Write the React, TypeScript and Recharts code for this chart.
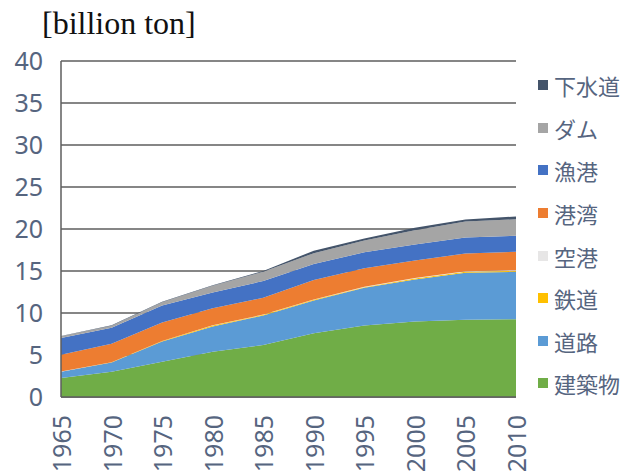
import React from 'react';
import { AreaChart, Area, XAxis, YAxis, CartesianGrid, Legend } from 'recharts';

const years = [1965, 1970, 1975, 1980, 1985, 1990, 1995, 2000, 2005, 2010];
const buildings = [2.25, 3.0, 4.2, 5.4, 6.2, 7.6, 8.5, 9.0, 9.2, 9.25];
const roads = [0.75, 1.1, 2.4, 3.0, 3.5, 3.9, 4.5, 5.0, 5.6, 5.65];
const railways = [0.02, 0.03, 0.06, 0.1, 0.08, 0.08, 0.08, 0.1, 0.1, 0.1];
const airports = [0.01, 0.01, 0.02, 0.03, 0.03, 0.04, 0.05, 0.06, 0.08, 0.1];
const ports = [2.0, 2.2, 2.2, 2.05, 2.0, 2.3, 2.2, 2.1, 2.1, 2.2];
const fishingPorts = [2.0, 1.9, 2.0, 1.85, 2.0, 1.9, 1.9, 1.9, 1.9, 1.9];
const dams = [0.2, 0.25, 0.4, 0.8, 1.1, 1.3, 1.4, 1.7, 1.9, 1.95];
const sewers = [0.03, 0.05, 0.05, 0.06, 0.1, 0.3, 0.25, 0.3, 0.25, 0.35];
const yTicks = [0, 5, 10, 15, 20, 25, 30, 35, 40];

const seriesNames = ['建築物', '道路', '鉄道', '空港', '港湾', '漁港', 'ダム', '下水道'];
const seriesValues = [buildings, roads, railways, airports, ports, fishingPorts, dams, sewers];
const seriesColors = ['#70AD47', '#5B9BD5', '#FFC000', '#E7E6E6', '#ED7D31', '#4472C4', '#A5A5A5', '#44546A'];

const data = years.map((year, i) => {
  const row: Record<string, number> = { year };
  seriesNames.forEach((n, k) => {
    row[n] = seriesValues[k][i];
  });
  return row;
});

const TEXT = '#56657F';
const LINE = '#5E5E5E';
const FONT = '"Noto Sans", "Noto Sans CJK JP", sans-serif';

const XTick = (props: any) => {
  const { x, y, payload } = props;
  const ty = y + 10;
  return (
    <text
      x={x}
      y={ty}
      transform={`rotate(-90, ${x}, ${ty})`}
      textAnchor="end"
      dominantBaseline="central"
      fill={TEXT}
      fontSize={25}
      fontFamily={FONT}
    >
      {payload.value}
    </text>
  );
};

const LegendContent = () => {
  const items = seriesNames.map((n, i) => ({ n, c: seriesColors[i] })).reverse();
  return (
    <div style={{ fontFamily: '"Noto Sans CJK JP", sans-serif' }}>
      {items.map((it) => (
        <div key={it.n} style={{ height: 42.6, display: 'flex', alignItems: 'center' }}>
          <span style={{ display: 'inline-block', width: 10, height: 10, background: it.c, marginRight: 6 }} />
          <span style={{ fontSize: 22, color: TEXT, lineHeight: '1' }}>{it.n}</span>
        </div>
      ))}
    </div>
  );
};

export default function App() {
  return (
    <div style={{ position: 'absolute', left: 0, top: 0, width: 624, height: 475, background: '#fff' }}>
      <div
        style={{
          position: 'absolute',
          left: 42,
          top: 3,
          fontFamily: '"Liberation Serif", "DejaVu Serif", serif',
          fontSize: 32,
          color: '#111',
          lineHeight: '40px',
          whiteSpace: 'nowrap',
        }}
      >
        [billion ton]
      </div>
      <AreaChart width={624} height={475} data={data} margin={{ top: 61, right: 108, left: 0, bottom: 0 }}>
        <CartesianGrid vertical={false} stroke={LINE} strokeWidth={1.5} />
        <XAxis
          dataKey="year"
          interval={0}
          tickLine={false}
          axisLine={{ stroke: LINE, strokeWidth: 1.5 }}
          height={78}
          tick={<XTick />}
        />
        <YAxis
          domain={[0, 40]}
          ticks={yTicks}
          width={61}
          tickLine={false}
          tickMargin={12}
          axisLine={{ stroke: LINE, strokeWidth: 1.5 }}
          tick={{ fill: TEXT, fontSize: 25, fontFamily: FONT }}
        />
        <YAxis
          yAxisId="r"
          orientation="right"
          width={0}
          tick={false}
          tickLine={false}
          axisLine={{ stroke: LINE, strokeWidth: 1.5 }}
        />
        {seriesNames.map((n, i) => (
          <Area
            key={n}
            type="linear"
            dataKey={n}
            stackId="a"
            fill={seriesColors[i]}
            fillOpacity={1}
            stroke="none"
            isAnimationActive={false}
          />
        ))}
        <Legend
          layout="vertical"
          align="center"
          verticalAlign="middle"
          content={<LegendContent />}
          wrapperStyle={{ left: 538, top: 64, width: 90, height: 345 }}
        />
      </AreaChart>
    </div>
  );
}
